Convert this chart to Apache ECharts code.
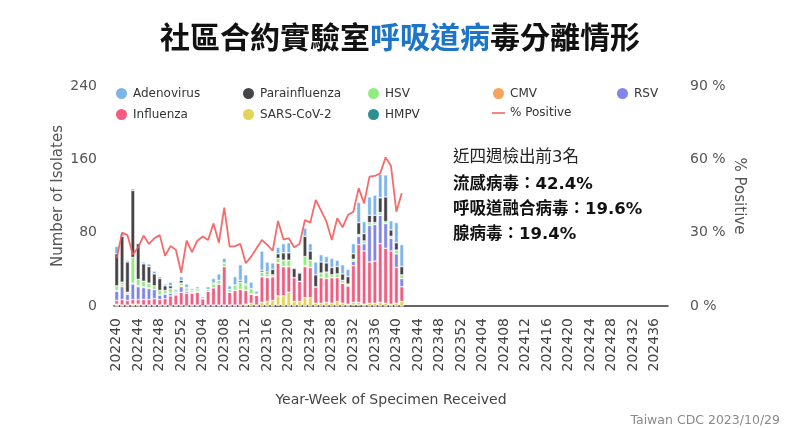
<!DOCTYPE html>
<html>
<head>
<meta charset="utf-8">
<title>社區合約實驗室呼吸道病毒分離情形</title>
<script src="https://cdn.jsdelivr.net/npm/echarts@6/dist/echarts.min.js"></script>
<style>
  html, body { margin: 0; padding: 0; background: #fff; }
  #main { width: 800px; height: 428px; }
</style>
</head>
<body>
<div id="main"></div>
<script>
// 週別 (202240 ~ 202438)
var weeks = [
  '202240','202241','202242','202243','202244','202245','202246','202247','202248','202249','202250','202251','202252',
  '202301','202302','202303','202304','202305','202306','202307','202308','202309','202310','202311','202312','202313',
  '202314','202315','202316','202317','202318','202319','202320','202321','202322','202323','202324','202325','202326',
  '202327','202328','202329','202330','202331','202332','202333','202334','202335','202336','202337','202338','202339',
  '202340','202341','202342','202343','202344','202345','202346','202347','202348','202349','202350','202351','202352',
  '202401','202402','202403','202404','202405','202406','202407','202408','202409','202410','202411','202412','202413',
  '202414','202415','202416','202417','202418','202419','202420','202421','202422','202423','202424','202425','202426',
  '202427','202428','202429','202430','202431','202432','202433','202434','202435','202436','202437','202438'
];

// 各病毒分離數 (202240 ~ 202341)
var hmpv      = [0,0,0,0,0,0,0,0,0,0, 0,0,0,0,0,0,0,0,0,0, 0,0,0,0,0,0,0,0,0,0, 1,0,0,0,0,0,0,0,0,0, 0,0,0,0,1,1,0,0,0,0, 0,0,0,0];
var sars      = [2,1,1,2,2,1,1,1,1,1, 0,1,1,0,1,1,0,1,1,1, 1,1,1,1,2,3,1,4,5,6, 10,11,15,5,5,9,9,3,3,4, 3,5,3,2,3,3,2,3,3,4, 3,2,3,5];
var influenza = [4,6,5,5,5,6,6,7,6,7, 11,11,14,14,13,14,8,15,19,23, 42,14,16,17,15,10,11,28,26,26, 36,32,28,26,22,34,33,18,28,26, 28,26,22,20,40,63,58,45,46,64, 60,58,39,16];
var rsv       = [10,14,7,17,14,13,12,10,5,5, 3,1,6,2,1,1,0,0,0,0, 0,0,0,0,0,0,0,0,0,0, 0,0,0,0,0,0,0,0,0,0, 0,0,0,0,5,9,8,40,40,31, 27,14,15,9];
var cmv       = [1,2,0,1,1,1,1,0,0,0, 0,0,1,0,0,0,0,0,0,0, 0,0,0,0,0,0,0,0,1,0, 0,0,0,0,0,1,0,0,0,0, 0,0,0,0,0,1,0,0,0,0, 0,0,0,0];
var hsv       = [5,3,2,28,7,6,5,4,5,4, 5,2,3,3,2,2,0,2,4,4, 4,3,6,8,6,6,1,5,3,2, 5,7,7,0,0,10,8,0,5,7, 3,4,3,2,2,1,3,3,2,3, 2,2,4,4];
var para      = [35,50,33,73,39,19,18,13,13,5, 3,1,3,1,0,1,0,0,1,0, 0,0,0,2,1,0,0,2,2,6, 5,8,8,10,9,22,10,13,12,10, 8,8,7,8,6,13,8,8,8,16, 27,7,8,9];
var adeno     = [8,3,2,2,1,2,3,3,2,2, 4,2,4,4,2,2,2,3,5,7, 5,4,9,17,10,7,3,21,11,7, 7,10,11,1,1,9,8,14,8,7, 10,7,10,8,11,22,13,20,22,26, 24,10,22,24];
// 陽性率 (%)
var positive  = [19.5,30,29,21,24,28.8,25.4,27.7,29,20.5, 24.5,23,13.6,26.7,22,26.7,28.4,27,33.8,25.9,
                 40.2,24.3,24.5,25.4,17.5,20.2,23.6,27,25,22.6, 34.8,27.3,27.7,24,25.4,35.2,34.1,43.4,39,34.5,
                 27,35.9,32.2,37.2,38.6,48.2,42,52.9,53.2,54.3, 60.8,57.3,38.6,46.1];

var leftTicks = [0, 80, 160, 240];
var rightTicks = [0, 30, 60, 90];

var colors = {
  'Adenovirus': '#7cb5ec',
  'Parainfluenza': '#434348',
  'HSV': '#90ed7d',
  'CMV': '#f7a35c',
  'RSV': '#8085e9',
  'Influenza': '#f15c80',
  'SARS-CoV-2': '#e4d354',
  'HMPV': '#2b908f',
  '% Positive': '#f45b5b'
};

var latin = 'DejaVu Sans';
var cjk = '"Noto Sans CJK TC", "Noto Sans CJK SC", sans-serif';

function barSeries(name, data) {
  return {
    name: name,
    type: 'bar',
    stack: 'isolates',
    barWidth: '72%',
    data: data,
    itemStyle: { color: colors[name], borderColor: '#fff', borderWidth: 0.5 },
    emphasis: { disabled: true }
  };
}

function legendCol(left, names) {
  return {
    orient: 'vertical',
    left: left,
    top: 81,
    itemWidth: 13,
    itemHeight: 13,
    itemGap: 6,
    icon: 'circle',
    textStyle: { fontFamily: latin, fontSize: 12, color: '#333' },
    data: names.map(function (n) {
      if (n === '% Positive') {
        return { name: n, icon: 'path://M0,6 L14,6 L14,7.6 L0,7.6 Z' };
      }
      return { name: n };
    })
  };
}

var chart = echarts.init(document.getElementById('main'));
chart.setOption({
  backgroundColor: '#fff',
  animation: false,
  title: {
    text: '{k|社區合約實驗室}{b|呼吸道病}{k|毒分離情形}',
    left: 'center',
    top: 17,
    textStyle: {
      rich: {
        k: { fontFamily: cjk, fontSize: 30, fontWeight: 'bold', color: '#111' },
        b: { fontFamily: cjk, fontSize: 30, fontWeight: 'bold', color: '#1c75c8' }
      }
    }
  },
  legend: [
    legendCol(109, ['Adenovirus', 'Influenza']),
    legendCol(236, ['Parainfluenza', 'SARS-CoV-2']),
    legendCol(361, ['HSV', 'HMPV']),
    legendCol(486, ['CMV', '% Positive']),
    legendCol(610, ['RSV'])
  ],
  grid: { left: 114, right: 132, top: 86, bottom: 122 },
  xAxis: {
    type: 'category',
    data: weeks,
    name: 'Year-Week of Specimen Received',
    nameLocation: 'middle',
    nameGap: 87,
    nameTextStyle: { fontFamily: latin, fontSize: 14, color: '#444' },
    axisLine: { lineStyle: { color: '#333', width: 1.5 } },
    axisTick: { show: false },
    axisLabel: {
      interval: 3,
      rotate: 90,
      margin: 12,
      fontFamily: latin,
      fontSize: 14,
      color: '#444'
    }
  },
  yAxis: [{
    type: 'value',
    min: leftTicks[0],
    max: leftTicks[leftTicks.length - 1],
    interval: leftTicks[1] - leftTicks[0],
    name: 'Number of Isolates',
    nameLocation: 'middle',
    nameGap: 48,
    nameMoveOverlap: false,
    nameTextStyle: { fontFamily: latin, fontSize: 15, color: '#555' },
    axisLine: { show: false },
    axisTick: { show: false },
    splitLine: { show: false },
    axisLabel: { fontFamily: latin, fontSize: 14, color: '#555', margin: 17 }
  }, {
    type: 'value',
    min: rightTicks[0],
    max: rightTicks[rightTicks.length - 1],
    interval: rightTicks[1] - rightTicks[0],
    position: 'right',
    name: '% Positive',
    nameLocation: 'middle',
    nameGap: 63,
    nameRotate: -90,
    nameMoveOverlap: false,
    nameTextStyle: { fontFamily: latin, fontSize: 15, color: '#555' },
    axisLine: { show: false },
    axisTick: { show: false },
    splitLine: { show: false },
    axisLabel: { fontFamily: latin, fontSize: 14, color: '#555', margin: 22, formatter: '{value} %' }
  }],
  series: [
    barSeries('HMPV', hmpv),
    barSeries('SARS-CoV-2', sars),
    barSeries('Influenza', influenza),
    barSeries('RSV', rsv),
    barSeries('CMV', cmv),
    barSeries('HSV', hsv),
    barSeries('Parainfluenza', para),
    barSeries('Adenovirus', adeno),
    {
      name: '% Positive',
      type: 'line',
      yAxisIndex: 1,
      data: positive,
      showSymbol: false,
      lineStyle: { color: colors['% Positive'], width: 1.8, opacity: 0.9 },
      itemStyle: { color: colors['% Positive'] },
      emphasis: { disabled: true },
      z: 5
    }
  ],
  graphic: [
    {
      type: 'text', left: 453, top: 149,
      style: { text: '近四週檢出前3名', font: '16.5px "DejaVu Sans", "Noto Sans CJK TC"', fill: '#222' }
    },
    {
      type: 'text', left: 453, top: 176,
      style: { text: '流感病毒：42.4%', font: 'bold 16.5px "DejaVu Sans", "Noto Sans CJK TC"', fill: '#111' }
    },
    {
      type: 'text', left: 453, top: 201,
      style: { text: '呼吸道融合病毒：19.6%', font: 'bold 16.5px "DejaVu Sans", "Noto Sans CJK TC"', fill: '#111' }
    },
    {
      type: 'text', left: 453, top: 226,
      style: { text: '腺病毒：19.4%', font: 'bold 16.5px "DejaVu Sans", "Noto Sans CJK TC"', fill: '#111' }
    },
    {
      type: 'text', right: 20, top: 414,
      style: { text: 'Taiwan CDC 2023/10/29', font: '12.5px "DejaVu Sans"', fill: '#8a8a8a' }
    }
  ]
});
</script>
</body>
</html>
